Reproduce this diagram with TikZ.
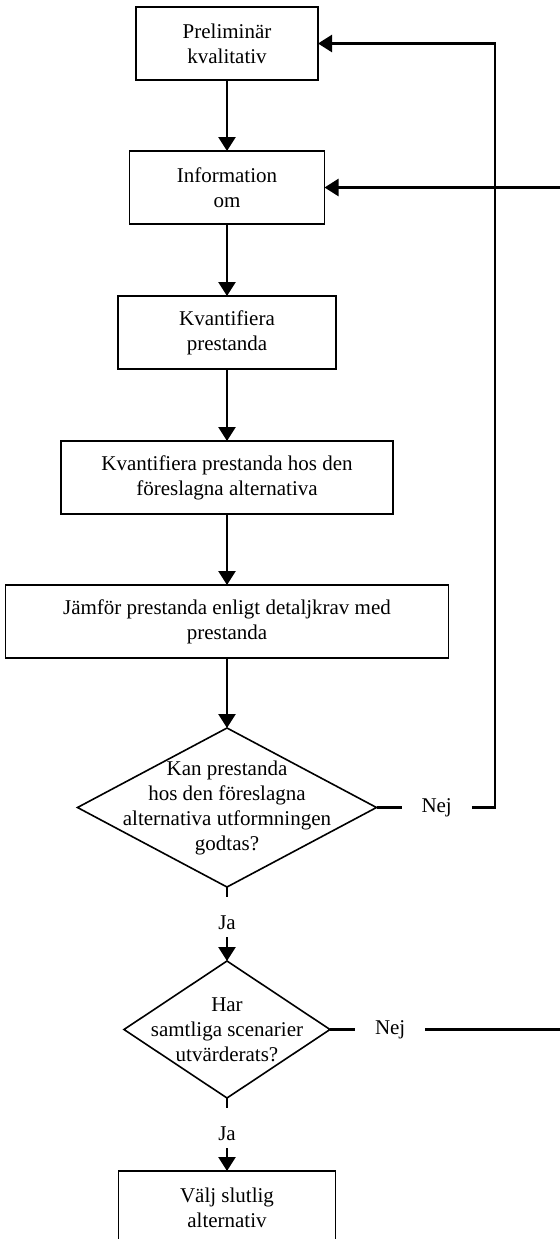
\documentclass[tikz,border=0pt]{standalone}
\usepackage{fontspec}
\setmainfont{Liberation Serif}
\usetikzlibrary{positioning,arrows.meta,shapes.geometric}

\begin{document}
\begin{tikzpicture}[font=\fontsize{10.5pt}{12.5pt}\selectfont, node distance=36pt,
          box/.style={draw, line width=0.8pt, align=center, minimum height=36.5pt,
                      inner sep=2pt, outer sep=0pt},
          dia/.style={draw, diamond, line width=0.8pt, inner sep=0pt, outer sep=0pt},
          lbl/.style={inner xsep=10pt, inner ysep=4pt, outer sep=0pt},
          ja/.style={lbl, text height=12pt, text depth=0pt},
          ln/.style={line width=1.25pt},
          arr/.style={ln, -{Triangle[length=7pt,width=8.5pt]}}]
        \useasboundingbox (0,0) rectangle (279.5pt,-619.5pt);
        % main chain of steps
        \node[box, minimum width=91pt] (p1) at (113.5pt,-21.75pt) {Preliminär\\kvalitativ};
        \node[box, minimum width=97.5pt, below=35.5pt of p1] (p2) {Information\\om};
        \node[box, minimum width=109pt, below=36pt of p2] (p3) {Kvantifiera\\prestanda};
        \node[box, minimum width=166pt, below=36pt of p3] (p4)
             {Kvantifiera prestanda hos den\\föreslagna alternativa};
        \node[box, minimum width=221.5pt, below=35.5pt of p4] (p5)
             {Jämför prestanda enligt detaljkrav med\\prestanda};
        % decisions
        \node[dia, minimum width=149.5pt, minimum height=79.5pt, below=35pt of p5,
              label={[align=center]center:{Kan prestanda\\hos den föreslagna\\alternativa utformningen\\godtas?}}] (d1) {};
        \node[ja, below=5pt of d1] (ja1) {Ja};
        \node[dia, minimum width=103pt, minimum height=68.5pt, below=12pt of ja1,
              label={[align=center]center:{Har\\samtliga scenarier\\utvärderats?}}] (d2) {};
        \node[ja, below=5pt of d2] (ja2) {Ja};
        \node[box, minimum width=108.5pt, below=11.5pt of ja2] (p6) {Välj slutlig\\alternativ};
        \node[lbl, right=12.5pt of d1] (n1) {Nej};
        \node[lbl, right=12.5pt of d2] (n2) {Nej};
        % corners of the way back
        \coordinate (r1) at ([xshift=88.5pt]p1.east);
        \coordinate (r2) at ([xshift=130pt]p2.east);
        \draw[arr] (p1) -- (p2);
        \draw[arr] (p2) -- (p3);
        \draw[arr] (p3) -- (p4);
        \draw[arr] (p4) -- (p5);
        \draw[arr] (p5) -- (d1);
        \draw[ln] (d1) -- (ja1);
        \draw[arr] (ja1) -- (d2);
        \draw[ln] (d2) -- (ja2);
        \draw[arr] (ja2) -- (p6);
        % "Nej" loops back up
        \draw[ln] (d1) -- (n1);
        \draw[arr] (n1.east) -| (r1) -- (p1.east);
        \draw[ln] (d2) -- (n2);
        \draw[arr] (n2.east) -| (r2) -- (p2.east);
      \end{tikzpicture}
\end{document}
